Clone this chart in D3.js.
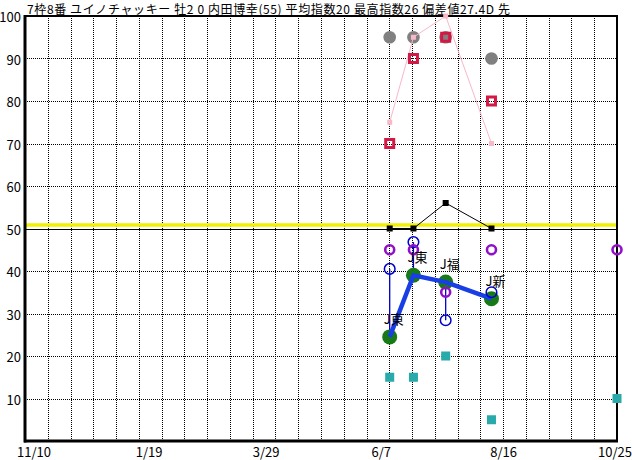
<!DOCTYPE html>
<html><head><meta charset="utf-8">
<script src="https://cdn.jsdelivr.net/npm/d3@7"></script>
<style>body{margin:0;background:#fff} svg{display:block}</style>
</head><body><svg id="c" width="632" height="460"></svg>
<script>
const title = "7枠8番 ユイノチャッキー 牡2 0 内田博幸(55) 平均指数20 最高指数26 偏差値27.4D 先";
const domainDates = ["2020-11-10", "2021-10-25"];
const tickDates = ["2020-11-10", "2021-01-19", "2021-03-29", "2021-06-07", "2021-08-16", "2021-10-25"];
const tickLabels = ["11/10", "1/19", "3/29", "6/7", "8/16", "10/25"];
const yTicks = [10, 20, 30, 40, 50, 60, 70, 80, 90, 100];
const raceDates = ["2021-06-13", "2021-06-27", "2021-07-16", "2021-08-12", "2021-10-25"];
const grayVals = [95, 95, 95, 90, null];
const pinkVals = [75, 95, 100, 70, null];
const redVals = [70, 90, 95, 80, null];
const blackVals = [50, 50, 56, 50, null];
const purpleVals = [45, 45, 35, 45, 45];
const blueVals = [40.5, 46.8, 28.4, 35, null];
const greenVals = [24.5, 39, 37.4, 33.5, null];
const raceLabels = ["J東", "J東", "J福", "J新", null];
const tealVals = [15, 15, 20, 5, 10];
const yellowLevel = 50.8;
const refLevel = 50;
const gridDivisions = 26;

const parse = d3.timeParse("%Y-%m-%d");
const svg = d3.select("#c");
const L = 25, R = 617, T = 16, B = 441;
const x = d3.scaleTime().domain(domainDates.map(parse)).range([L, R]);
const y = d3.scaleLinear().domain([0, 100]).range([B, T]);
const FONT = "'Noto Sans CJK JP', 'DejaVu Sans', sans-serif";

svg.append("rect").attr("width", 632).attr("height", 460).attr("fill", "#fff");

// vertical grid
const vg = d3.range(1, gridDivisions).map(i => L + (R - L) * i / gridDivisions);
svg.append("g").selectAll("line").data(vg).join("line")
  .attr("x1", d => Math.round(d) + 0.5).attr("x2", d => Math.round(d) + 0.5)
  .attr("y1", T).attr("y2", B)
  .attr("stroke", "#000").attr("stroke-width", 1).attr("stroke-dasharray", "1,1");
// horizontal grid
svg.append("g").selectAll("line").data(yTicks.filter(v => v < 100 && v !== refLevel)).join("line")
  .attr("x1", L).attr("x2", R)
  .attr("y1", d => Math.round(y(d)) + 0.5).attr("y2", d => Math.round(y(d)) + 0.5)
  .attr("stroke", "#000").attr("stroke-width", 1).attr("stroke-dasharray", "1,1");

// yellow & reference line
svg.append("line").attr("x1", L).attr("x2", R).attr("y1", y(yellowLevel)).attr("y2", y(yellowLevel))
  .attr("stroke", "#f2f200").attr("stroke-width", 3.5);
svg.append("line").attr("x1", L).attr("x2", R).attr("y1", Math.round(y(refLevel)) + 0.5).attr("y2", Math.round(y(refLevel)) + 0.5)
  .attr("stroke", "#000").attr("stroke-width", 1);

// frame
svg.append("rect").attr("x", L).attr("y", T).attr("width", R - L).attr("height", B - T)
  .attr("fill", "none").attr("stroke", "#000").attr("stroke-width", 2);
svg.append("line").attr("x1", L).attr("x2", L).attr("y1", T - 1).attr("y2", B + 1.5).attr("stroke", "#000").attr("stroke-width", 3);
svg.append("line").attr("x1", L - 1).attr("x2", R + 1).attr("y1", B).attr("y2", B).attr("stroke", "#000").attr("stroke-width", 3);

// title
svg.append("text").attr("x", 27).attr("y", 13.8).attr("font-family", FONT).attr("font-size", 12)
  .attr("textLength", 483).attr("lengthAdjust", "spacing")
  .attr("fill", "#000").text(title);

// y labels
svg.append("g").selectAll("text").data(yTicks).join("text")
  .attr("x", 21).attr("y", d => y(d) + 6).attr("text-anchor", "end")
  .attr("font-family", FONT).attr("font-size", 13).attr("fill", "#000").text(d => d);

// x labels
svg.append("g").selectAll("text").data(tickDates).join("text")
  .attr("x", (d, i) => i === tickDates.length - 1 ? 632 : x(parse(d)) - 8)
  .attr("y", 457)
  .attr("text-anchor", (d, i) => i === tickDates.length - 1 ? "end" : "start")
  .attr("font-family", FONT).attr("font-size", 13).attr("fill", "#000").text((d, i) => tickLabels[i]);

const rows = raceDates.map((d, i) => ({
  x: x(parse(d)), gray: grayVals[i], pink: pinkVals[i], red: redVals[i], black: blackVals[i],
  purple: purpleVals[i], blue: blueVals[i], green: greenVals[i], label: raceLabels[i], teal: tealVals[i]
}));
const has = k => rows.filter(r => r[k] !== null);

// gray circles
svg.append("g").selectAll("circle").data(has("gray")).join("circle")
  .attr("cx", d => d.x).attr("cy", d => y(d.gray)).attr("r", 6.3).attr("fill", "#808080");
// pink line
svg.append("path").datum(has("pink"))
  .attr("d", d3.line().x(d => d.x).y(d => y(d.pink)))
  .attr("fill", "none").attr("stroke", "#f8b8c8").attr("stroke-width", 1);
svg.append("g").selectAll("rect").data(has("pink")).join("rect")
  .attr("x", d => d.x - 2.5).attr("y", d => y(d.pink) - 2.5).attr("width", 5).attr("height", 5)
  .attr("fill", "#f8b8c8");
// red squares
svg.append("g").selectAll("rect").data(has("red")).join("rect")
  .attr("x", d => d.x - 4).attr("y", d => y(d.red) - 4).attr("width", 8).attr("height", 8)
  .attr("fill", "none").attr("stroke", "#d41845").attr("stroke-width", 3);
// black line
svg.append("path").datum(has("black"))
  .attr("d", d3.line().x(d => d.x).y(d => y(d.black)))
  .attr("fill", "none").attr("stroke", "#000").attr("stroke-width", 1);
svg.append("g").selectAll("rect").data(has("black")).join("rect")
  .attr("x", d => d.x - 3).attr("y", d => y(d.black) - 3).attr("width", 6).attr("height", 6)
  .attr("fill", "#000");
// blue vertical connectors
svg.append("g").selectAll("line").data(rows.filter(r => r.blue !== null && r.green !== null)).join("line")
  .attr("x1", d => d.x).attr("x2", d => d.x).attr("y1", d => y(d.blue)).attr("y2", d => y(d.green))
  .attr("stroke", "#0000cc").attr("stroke-width", 1.3);
// green dots
svg.append("g").selectAll("circle").data(has("green")).join("circle")
  .attr("cx", d => d.x).attr("cy", d => y(d.green)).attr("r", 7.5).attr("fill", "#177a17");
// thick blue line
svg.append("path").datum(has("green"))
  .attr("d", d3.line().x(d => d.x).y(d => y(d.green)))
  .attr("fill", "none").attr("stroke", "#1a3ee6").attr("stroke-width", 4.5);
// blue circles
svg.append("g").selectAll("circle").data(has("blue")).join("circle")
  .attr("cx", d => d.x).attr("cy", d => y(d.blue)).attr("r", 5.3)
  .attr("fill", "none").attr("stroke", "#0000cc").attr("stroke-width", 1.5);
// purple circles
svg.append("g").selectAll("circle").data(has("purple")).join("circle")
  .attr("cx", d => d.x).attr("cy", d => y(d.purple)).attr("r", 4.5)
  .attr("fill", "none").attr("stroke", "#9010c8").attr("stroke-width", 2.6);
// teal squares
svg.append("g").selectAll("rect").data(has("teal")).join("rect")
  .attr("x", d => d.x - 4.5).attr("y", d => y(d.teal) - 4.5).attr("width", 9).attr("height", 9)
  .attr("fill", "#29aaaa");
// race labels
svg.append("g").selectAll("text").data(has("label")).join("text")
  .attr("x", d => d.x - 6).attr("y", d => y(d.green) - 13)
  .attr("font-family", FONT).attr("font-size", 13).attr("fill", "#000").text(d => d.label);
</script></body></html>
